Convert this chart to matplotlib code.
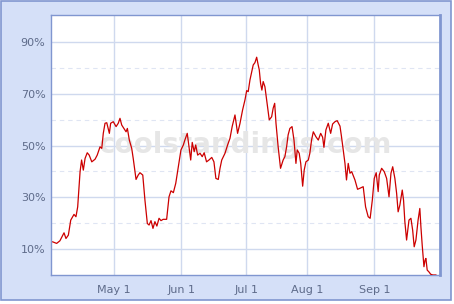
import matplotlib
matplotlib.use("Agg")
import matplotlib.pyplot as plt
from matplotlib.patches import Rectangle

# Days since season start (x) and playoff odds in % (y)
days = [0.8, 2.6, 4.1, 6.0, 6.9, 8.0, 9.1, 10.6, 11.5, 12.3, 13.4, 14.1, 14.9, 15.7, 16.7,
        17.6, 18.8, 20.3, 21.3, 22.6, 23.4, 24.1, 24.9, 25.7, 26.9, 27.5, 28.7, 30.0, 31.0,
        31.8, 32.6, 33.6, 34.6, 35.2, 36.1, 37.2, 37.9, 39.2, 40.2, 41.0, 42.3, 43.3, 44.4,
        45.2, 46.1, 47.0, 47.9, 48.8, 49.8, 50.7, 51.7, 53.3, 54.4, 55.3, 56.4, 57.5, 58.7,
        59.9, 61.0, 61.7, 62.8, 63.6, 64.4, 65.1, 66.0, 66.7, 67.6, 68.7, 69.7, 70.6, 71.7,
        72.8, 74.1, 75.1, 76.0, 77.1, 77.9, 78.7, 80.2, 81.4, 82.5, 83.5, 84.8, 86.0, 87.1,
        88.3, 89.4, 90.2, 90.9, 91.7, 92.5, 93.2, 94.0, 94.8, 95.5, 96.0, 96.6, 97.2, 97.8,
        98.6, 99.4, 100.6, 101.7, 102.4, 103.1, 103.7, 104.7, 105.8, 107.0, 107.8, 108.6,
        109.3, 110.1, 111.1, 112.0, 112.9, 113.5, 114.4, 115.1, 116.0, 116.7, 117.5, 118.6,
        119.3, 120.1, 120.9, 122.1, 123.2, 124.3, 125.2, 125.8, 126.7, 127.8, 128.9, 129.8,
        130.9, 131.9, 133.2, 133.9, 134.7, 135.5, 136.2, 137.0, 137.8, 138.6, 140.1, 141.3,
        142.4, 143.9, 145.0, 146.2, 147.1, 148.1, 149.0, 149.9, 150.8, 151.3, 152.4, 153.6,
        154.7, 155.8, 156.7, 157.5, 158.5, 159.3, 160.0, 160.8, 161.9, 162.5, 163.1, 163.9,
        165.0, 165.9, 166.7, 167.4, 168.2, 169.2, 170.0, 170.5, 171.1, 171.9, 172.4, 172.8,
        173.4, 174.2, 175.0, 176.0, 177.4]
odds = [12.8, 12.2, 13.2, 16.3, 14.1, 15.4, 21.2, 23.4, 22.5, 26.3, 39.9, 44.4, 40.5, 45.0, 47.2,
        46.3, 43.7, 44.7, 46.3, 49.5, 48.9, 54.7, 58.6, 58.8, 54.7, 58.6, 59.2, 57.3, 58.6,
        60.5, 57.9, 56.6, 55.3, 56.6, 52.1, 48.9, 45.0, 36.9, 38.6, 39.5, 38.6, 28.9, 19.9,
        19.3, 21.0, 18.0, 20.6, 18.9, 21.9, 21.0, 21.5, 21.5, 30.2, 32.5, 31.8, 35.4, 41.8,
        48.3, 50.2, 52.1, 54.7, 49.5, 44.4, 51.2, 47.6, 50.2, 46.3, 47.0, 45.7, 47.2, 43.7,
        44.4, 45.4, 43.7, 37.3, 36.9, 41.2, 44.4, 47.0, 50.2, 52.8, 57.3, 61.8, 54.7, 58.5,
        63.7, 67.6, 71.2, 70.8, 75.3, 78.5, 81.1, 82.0, 84.1, 81.1, 79.2, 74.0, 71.4, 74.7,
        72.7, 67.6, 59.9, 61.1, 64.4, 66.3, 58.6, 49.5, 41.2, 44.4, 45.7, 49.5,
        54.1, 56.6, 57.3, 52.1, 43.1, 48.3, 47.0, 43.1, 34.3, 40.5, 43.7, 44.4,
        47.0, 52.1, 55.3, 53.4, 52.1, 54.7, 53.2, 49.3, 56.0, 58.6, 54.7, 58.3,
        59.2, 59.6, 57.5, 53.4, 48.3, 43.1, 36.7, 43.1, 39.3, 39.9, 36.7, 33.1,
        33.5, 34.1, 26.3, 22.5, 21.9, 28.9, 37.3, 39.5, 32.2, 38.6, 41.2, 39.9,
        37.3, 30.2, 39.3, 41.8, 37.3, 31.6, 24.4, 27.0, 32.8, 28.9, 20.6, 13.5,
        21.2, 21.9, 17.3, 10.9, 13.5, 21.2, 25.7, 18.6, 11.5, 3.2, 5.7, 6.4,
        1.9, 1.2, 0.3, 0.0, 0.0]

month_ticks = [29, 60, 90, 118, 149]
month_labels = ["May 1", "Jun 1", "Jul 1", "Aug 1", "Sep 1"]
major_y = [10, 30, 50, 70, 90]
minor_y = [20, 40, 60, 80]
y_labels = ["10%", "30%", "50%", "70%", "90%"]

W, H = 454, 304
fig = plt.figure(figsize=(W / 100, H / 100), dpi=100)
fig.patch.set_facecolor("white")

# outer light-blue frame
frame = Rectangle((0.5 / W, 1 - 299.5 / H), 450 / W, 299 / H, transform=fig.transFigure,
                  facecolor="#d5e0f8", edgecolor="#8096d0", linewidth=1.2, zorder=-5)
fig.patches.append(frame)

ax = fig.add_axes([51 / W, (H - 275) / H, 389 / W, 260 / H])
ax.set_zorder(5)
ax.set_facecolor("white")
ax.set_xlim(0, 179.3)
ax.set_ylim(0, 100.4)

grid_c = "#cfd9ee"
for v in major_y:
    ax.axhline(v, color=grid_c, linewidth=1.0, zorder=1)
for v in minor_y:
    ax.axhline(v, color="#dfe5f3", linewidth=0.8, linestyle=(0, (4, 3.5)), zorder=1)
for t in month_ticks:
    ax.axvline(t, color=grid_c, linewidth=1.0, zorder=1)

ax.text(0.5, 0.5, "coolstandings.com", transform=ax.transAxes, ha="center", va="center",
        fontsize=20, fontweight="bold", color="#e6e6e6", zorder=1.5)

ax.plot(days, odds, color="#cc0000", linewidth=0.9, zorder=3)

ax.set_yticks(major_y)
ax.set_yticklabels(y_labels)
ax.set_xticks(month_ticks)
ax.set_xticklabels(month_labels)
ax.tick_params(axis="both", length=0, labelsize=8, labelcolor="#5e6b8a")
ax.tick_params(axis="y", pad=4)
ax.tick_params(axis="x", pad=7)

for s in ax.spines.values():
    s.set_color("#8096d0")
    s.set_linewidth(1.0)
ax.spines["right"].set_linewidth(2.0)

fig.savefig("out.png", dpi=100, facecolor=fig.get_facecolor())
